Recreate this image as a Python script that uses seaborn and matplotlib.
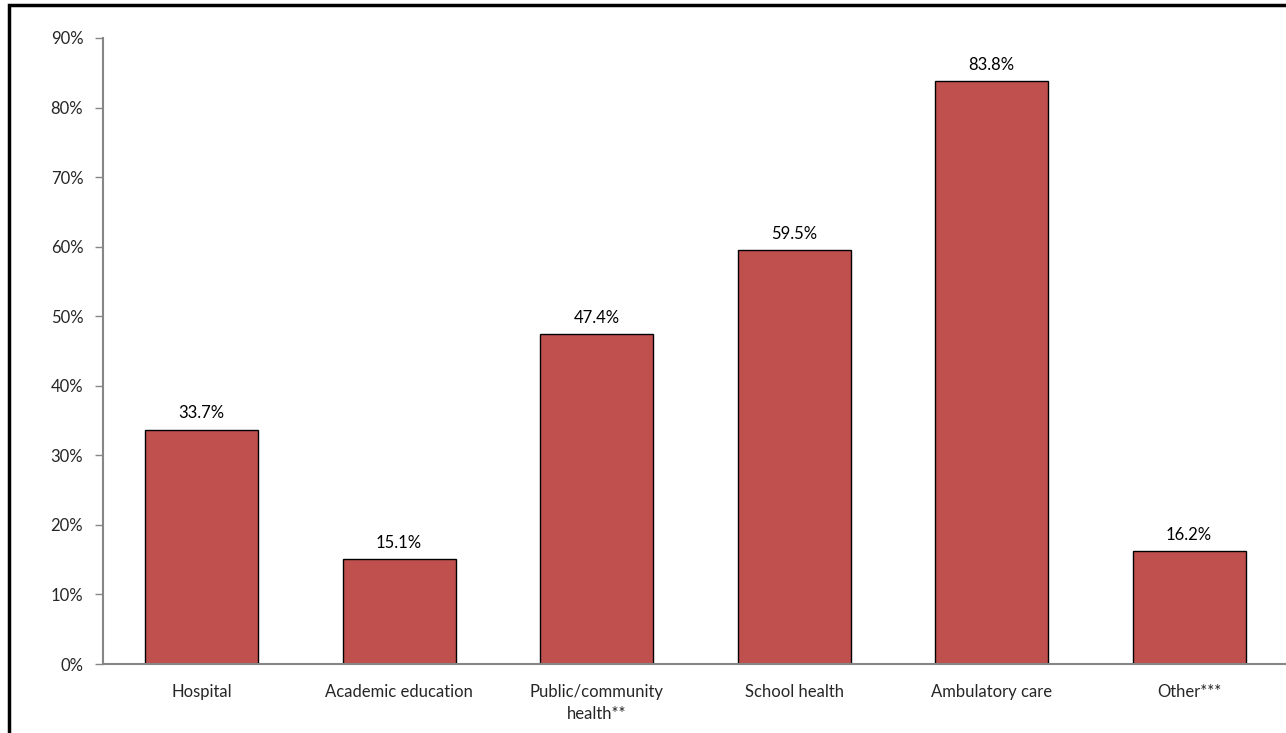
import matplotlib
matplotlib.use("Agg")
import matplotlib.pyplot as plt
import seaborn as sns
import pandas as pd
from matplotlib.patches import Rectangle
from matplotlib.ticker import PercentFormatter

# Data
categories = ["Hospital", "Academic education", "Public/community\nhealth**",
              "School health", "Ambulatory care", "Other***"]
values = [33.7, 15.1, 47.4, 59.5, 83.8, 16.2]

sns.set_style("white")
plt.rcParams['font.family'] = ['Lato', 'DejaVu Sans']

df = pd.DataFrame({'category': categories, 'value': values})

fig = plt.figure(figsize=(12.86, 7.33), dpi=100)
ax = fig.add_axes([0.0799, 0.0941, 0.9215, 0.8541])

sns.barplot(data=df, x='category', y='value', color='#C0504D', saturation=1,
            width=0.572, edgecolor='black', linewidth=1, ax=ax)

# Value labels above bars
for i, v in enumerate(values):
    ax.text(i, v + 1.2, f"{v:.1f}%", ha='center', va='bottom', fontsize=12,
            color='black')

ax.set_ylim(0, 90)
ax.set_xlim(-0.5, len(categories) - 0.5)
ax.set_yticks(range(0, 91, 10))
ax.yaxis.set_major_formatter(PercentFormatter(decimals=0))
ax.set_xlabel('')
ax.set_ylabel('')

for side in ['top', 'right']:
    ax.spines[side].set_visible(False)
for side in ['left', 'bottom']:
    ax.spines[side].set_color('#868686')
    ax.spines[side].set_linewidth(1.5)

ax.tick_params(axis='y', which='major', left=True, length=6, width=1,
               color='#868686', labelsize=12, pad=8)
ax.tick_params(axis='x', bottom=False, labelsize=12, pad=11)
for lbl in ax.get_xticklabels():
    lbl.set_linespacing(1.45)

# Outer frame around chart area
fig.patches.append(Rectangle((9 / 1286, -0.1), 1.2, 1 - 5 / 733 + 0.1,
                             transform=fig.transFigure, fill=False,
                             edgecolor='black', linewidth=2.5))

fig.savefig('out.png', dpi=100)
